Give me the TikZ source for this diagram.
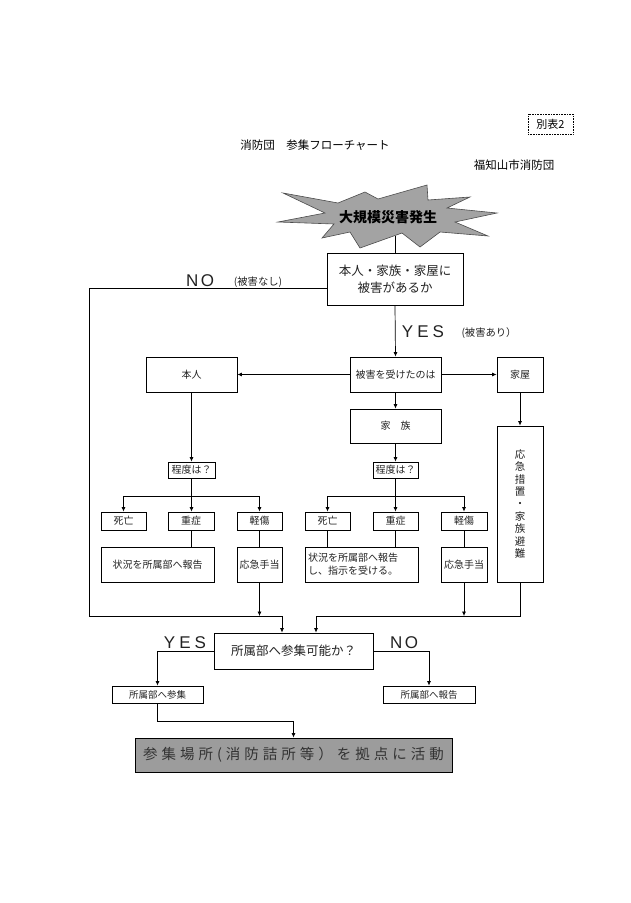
\documentclass[tikz,border=0pt]{standalone}
\usepackage{fontspec}
\setmainfont{Noto Sans CJK JP}
\newfontfamily\latinf{Liberation Sans}
\usetikzlibrary{arrows.meta}
\definecolor{txt}{HTML}{222222}
\definecolor{starfill}{HTML}{A3A3A3}
\definecolor{finalfill}{HTML}{9C9C9C}
\makeatletter
\newcommand\spaced[2]{\def\sp@k{#1}\@tfor\sp@c:=#2\do{\sp@c\kern\sp@k}\unkern}
\makeatother
\begin{document}
\begin{tikzpicture}[x=1pt,y=-1pt,
  line/.style={line width=0.7pt, draw=black},
  arr/.style={line, -{Latex[length=4.5pt,width=4pt]}},
  box/.style={draw=black, line width=0.8pt, inner sep=0pt, align=center, text=txt, font=\fontsize{10}{13}\selectfont},
  yn/.style={text=txt, inner sep=0pt, font=\latinf\fontsize{17}{17}\selectfont},
  note/.style={text=txt, inner sep=0pt, font=\fontsize{10.3}{12}\selectfont},
  head/.style={text=black, inner sep=0pt, font=\fontsize{11.5}{13}\selectfont}]
\useasboundingbox (0,0) rectangle (630,903);

% header
\node[draw=black, densely dotted, line width=0.6pt, minimum width=45pt, minimum height=20pt, inner sep=0pt, font=\fontsize{11}{13}\selectfont] (bh) at (550.5,124) {別表2};
\node[head] (title) at (315,145) {消防団　参集フローチャート};
\node[head] (org) at (514,165) {福知山市消防団};

% boxes
\node[box, minimum width=136pt, minimum height=52pt, font=\fontsize{12.5}{17}\selectfont] (q1) at (395,279) {本人・家族・家屋に\\被害があるか};
\coordinate (sb) at (395,236);
\draw[line] (sb) -- (q1.north);

% starburst
\filldraw[fill=starfill, draw=black!70, line width=0.6pt]
 (283,193) -- (338,203) -- (365,192) -- (378,199) -- (427,185) -- (428,200) -- (470,197) -- (447,208)
 -- (497,213) -- (455,222) -- (488,236) -- (440,232) -- (420,247) -- (402,233) -- (360,248) -- (350,232)
 -- (322,238) -- (334,224) -- (278,222) -- (325,213) -- cycle;
\node[inner sep=0pt, font=\bfseries\fontsize{14}{16}\selectfont] (star) at (388,217) {大規模災害発生};

\node[box, minimum width=91pt, minimum height=35pt] (who) at (395.5,374.5) {被害を受けたのは};
\node[box, minimum width=91pt, minimum height=35pt] (honin) at (191.5,374.5) {本人};
\node[box, minimum width=46pt, minimum height=35pt] (kaoku) at (520,374.5) {家屋};
\node[box, minimum width=91pt, minimum height=34pt] (kazoku) at (395.5,426) {家　族};
\node[box, minimum width=47pt, minimum height=16pt] (tdL) at (191.5,470) {程度は？};
\node[box, minimum width=45pt, minimum height=16pt] (tdR) at (395.5,470) {程度は？};
\node[box, minimum width=45pt, minimum height=18pt] (deadL) at (123.5,521) {死亡};
\node[box, minimum width=46pt, minimum height=18pt] (sevL) at (191,521) {重症};
\node[box, minimum width=45pt, minimum height=18pt] (minL) at (259.5,521) {軽傷};
\node[box, minimum width=45pt, minimum height=18pt] (deadR) at (327.5,521) {死亡};
\node[box, minimum width=45pt, minimum height=18pt] (sevR) at (395.5,521) {重症};
\node[box, minimum width=46pt, minimum height=18pt] (minR) at (464,521) {軽傷};
\node[box, minimum width=113pt, minimum height=35pt] (repL) at (157.5,564.5) {状況を所属部へ報告};
\node[box, minimum width=45pt, minimum height=35pt] (aidL) at (259.5,564.5) {応急手当};
\node[box, minimum height=35pt, align=left, text width=107pt, inner xsep=3pt] (repR) at (361.5,564.5) {状況を所属部へ報告\\し、指示を受ける。};
\node[box, minimum width=46pt, minimum height=35pt] (aidR) at (464,564.5) {応急手当};
\node[box, minimum width=46pt, minimum height=156pt, font=\fontsize{10.5}{12.4}\selectfont] (emerg) at (520,504) {応\\急\\措\\置\\・\\家\\族\\避\\難};
\node[box, minimum width=159pt, minimum height=36pt, font=\fontsize{12.5}{15}\selectfont] (q2) at (293.5,651) {所属部へ参集可能か？};
\node[box, minimum width=91pt, minimum height=17pt, font=\fontsize{9.5}{11}\selectfont] (go) at (157.5,694.5) {所属部へ参集};
\node[box, minimum width=92pt, minimum height=17pt, font=\fontsize{9.5}{11}\selectfont] (rep) at (429,694.5) {所属部へ報告};
\node[box, fill=finalfill, text=black!80, minimum width=317pt, minimum height=34pt, font=\fontsize{14.5}{16}\selectfont] (final) at (293.5,755) {\spaced{4pt}{参集場所(消防詰所等）を拠点に活動}};

% labels
\node[yn] (noA) at (200,281) {\spaced{2.5pt}{NO}};
\node[note] (noAn) at (258,282) {(被害なし)};
\node[yn] (yesA) at (423,332) {\spaced{4pt}{YES}};
\node[note] (yesAn) at (489,333) {(被害あり）};
\node[yn] (yesB) at (185,643) {\spaced{4pt}{YES}};
\node[yn] (noB) at (404,643) {\spaced{2.5pt}{NO}};

% coordinates
\coordinate (nl) at (89,288);
\coordinate (ml) at (89,616);
\coordinate (jl) at (282,616);
\coordinate (mr) at (520,616);
\coordinate (jr) at (316,616);
\coordinate (bl) at (191.5,496);
\coordinate (br) at (395.5,496);
\coordinate (mf) at (293.5,721);

% connectors
\draw[arr] (q1.south) -- (who.north);
\draw[arr] (who.west) -- (honin.east);
\draw[arr] (who.east) -- (kaoku.west);
\draw[arr] (who.south) -- (kazoku.north);
\draw[arr] (kaoku.south) -- (emerg.north);
\draw[arr] (honin.south) -- (tdL.north);
\draw[arr] (kazoku.south) -- (tdR.north);

\draw[arr] (tdL.south) -- (tdL.south |- sevL.north);
\draw[arr] (bl) -| (deadL.north);
\draw[arr] (bl) -| (minL.north);
\draw[arr] (tdR.south) -- (tdR.south |- sevR.north);
\draw[arr] (br) -| (deadR.north);
\draw[arr] (br) -| (minR.north);

\draw[line] (sevL.south) -- (sevL.south |- repL.north);
\draw[line] (minL.south) -- (aidL.north);
\draw[line] (deadR.south) -- (deadR.south |- repR.north);
\draw[line] (sevR.south) -- (sevR.south |- repR.north);
\draw[line] (minR.south) -- (aidR.north);

\draw[arr] (nl -| q1.west) -- (nl) -- (ml) -- (jl) -- (jl |- q2.north);
\draw[arr] (emerg.south) -- (mr) -- (jr) -- (jr |- q2.north);
\draw[arr] (aidL.south) -- (aidL.south |- ml);
\draw[arr] (aidR.south) -- (aidR.south |- mr);

\draw[arr] (q2.west) -| (go.north);
\draw[arr] (q2.east) -| (rep.north);
\draw[arr] (go.south) |- (mf) -- (final.north);
\end{tikzpicture}
\end{document}
